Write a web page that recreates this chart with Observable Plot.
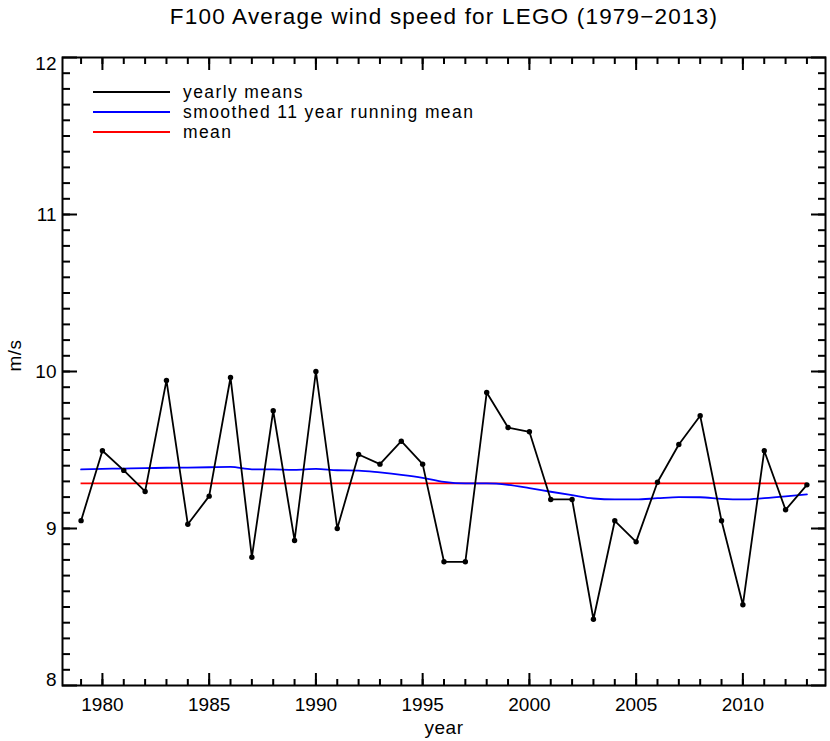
<!DOCTYPE html>
<html>
<head>
<meta charset="utf-8">
<script src="https://cdn.jsdelivr.net/npm/d3@7"></script>
<script src="https://cdn.jsdelivr.net/npm/@observablehq/plot@0.6"></script>
<style>
  body { margin: 0; background: white; font-family: "Liberation Sans", Arial, Helvetica, sans-serif; }
  #wrap { position: relative; width: 830px; height: 741px; }
  #legend { position: absolute; left: 93px; top: 82.5px; font-size: 17.5px; letter-spacing: 1.4px; color: black; }
  #legend .row { display: flex; align-items: center; height: 19.8px; }
  #legend .sw { width: 77px; height: 0; margin-right: 13px; border-top: 2px solid; }
</style>
</head>
<body>
<div id="wrap"></div>
<script>
const title = "F100 Average wind speed for LEGO (1979\u22122013)";
const xLabel = "year";
const yLabel = "m/s";
const years = [1979,1980,1981,1982,1983,1984,1985,1986,1987,1988,1989,1990,1991,1992,1993,1994,1995,1996,1997,1998,1999,2000,2001,2002,2003,2004,2005,2006,2007,2008,2009,2010,2011,2012,2013];
const yearlyMeans = [9.05,9.495,9.37,9.236,9.943,9.027,9.206,9.962,8.817,9.75,8.924,10.0,9.0,9.471,9.41,9.556,9.41,8.788,8.788,9.866,9.643,9.616,9.185,9.185,8.422,9.049,8.915,9.295,9.535,9.718,9.049,8.514,9.495,9.119,9.278];
const smoothed = [9.376,9.380,9.382,9.384,9.387,9.388,9.390,9.392,9.377,9.376,9.374,9.380,9.371,9.369,9.357,9.342,9.323,9.297,9.287,9.287,9.278,9.257,9.234,9.212,9.191,9.185,9.185,9.193,9.200,9.199,9.189,9.185,9.193,9.204,9.217];
const meanValue = 9.288;
const xMajorTicks = [1980,1985,1990,1995,2000,2005,2010];
const xMinorTicks = years;
const yMajorTicks = [8,9,10,11,12];
const yTopTick = [12];
const yMidTicks = [9,10,11];
const yBottomTick = [8];
const yMinorTicks = d3.range(81,120).map(d => d/10);
const legendItems = [
  {label: "yearly means", color: "black"},
  {label: "smoothed 11 year running mean", color: "#0000ff"},
  {label: "mean", color: "#ff0000"}
];

const rows = years.map((y, i) => ({year: y, v: yearlyMeans[i], s: smoothed[i]}));
const noText = () => "";
const fmt = d => String(d);

const chart = Plot.plot({
  width: 830,
  height: 741,
  marginTop: 57,
  marginBottom: 56,
  marginLeft: 62,
  marginRight: 5,
  x: {domain: [1978.13, 2013.87]},
  y: {domain: [8, 12]},
  style: {fontFamily: '"Liberation Sans", Arial, Helvetica, sans-serif', fontSize: "19px", color: "black", background: "white"},
  marks: [
    Plot.ruleY([meanValue], {x1: years[0], x2: years[years.length - 1], stroke: "#ff0000", strokeWidth: 1.8}),
    Plot.line(rows, {x: "year", y: "s", stroke: "#0000ff", strokeWidth: 1.8, curve: "monotone-x"}),
    Plot.line(rows, {x: "year", y: "v", stroke: "black", strokeWidth: 1.8}),
    Plot.dot(rows, {x: "year", y: "v", r: 2.7, fill: "black"}),
    Plot.frame({stroke: "black", strokeWidth: 2}),
    Plot.axisX(xMajorTicks, {anchor: "bottom", tickSize: -12, tickPadding: 24, tickFormat: fmt, strokeWidth: 2, label: null, fontSize: 19}),
    Plot.axisX(xMinorTicks, {anchor: "bottom", tickSize: -6, tickFormat: noText, strokeWidth: 2, label: null}),
    Plot.axisX(xMajorTicks, {anchor: "top", tickSize: -12, tickFormat: noText, strokeWidth: 2, label: null}),
    Plot.axisX(xMinorTicks, {anchor: "top", tickSize: -6, tickFormat: noText, strokeWidth: 2, label: null}),
    Plot.axisY(yMajorTicks, {anchor: "left", tickSize: -15, tickFormat: noText, strokeWidth: 2, label: null}),
    Plot.axisY(yMidTicks, {anchor: "left", tickSize: 0, tickPadding: 6, tickFormat: fmt, label: null, fontSize: 19}),
    Plot.axisY(yTopTick, {anchor: "left", tickSize: 0, tickPadding: 6, tickFormat: fmt, label: null, fontSize: 19, dy: 6.5}),
    Plot.axisY(yBottomTick, {anchor: "left", tickSize: 0, tickPadding: 6, tickFormat: fmt, label: null, fontSize: 19, dy: -6}),
    Plot.axisY(yMinorTicks, {anchor: "left", tickSize: -8, tickFormat: noText, strokeWidth: 2, label: null}),
    Plot.axisY(yMajorTicks, {anchor: "right", tickSize: -15, tickFormat: noText, strokeWidth: 2, label: null}),
    Plot.axisY(yMinorTicks, {anchor: "right", tickSize: -8, tickFormat: noText, strokeWidth: 2, label: null}),
    Plot.text([title], {frameAnchor: "top", lineAnchor: "bottom", dy: -33.7, fontSize: 22.5, fill: "black"}),
    Plot.text([xLabel], {frameAnchor: "bottom", lineAnchor: "bottom", dy: 48, fontSize: 19, fill: "black"}),
    Plot.text([yLabel], {frameAnchor: "left", dx: -48, rotate: -90, fontSize: 19, fill: "black"})
  ]
});

// widen the text slightly to match the reference rendering
for (const t of chart.querySelectorAll("text")) {
  const s = t.textContent;
  if (s === title) t.style.letterSpacing = "1.2px";
  else if (s === xLabel || s === yLabel) t.style.letterSpacing = "0.5px";
}

const wrap = document.getElementById("wrap");
wrap.appendChild(chart);
const legend = document.createElement("div");
legend.id = "legend";
for (const item of legendItems) {
  const row = document.createElement("div");
  row.className = "row";
  const sw = document.createElement("span");
  sw.className = "sw";
  sw.style.borderTopColor = item.color;
  const lab = document.createElement("span");
  lab.textContent = item.label;
  row.appendChild(sw);
  row.appendChild(lab);
  legend.appendChild(row);
}
wrap.appendChild(legend);
</script>
</body>
</html>
